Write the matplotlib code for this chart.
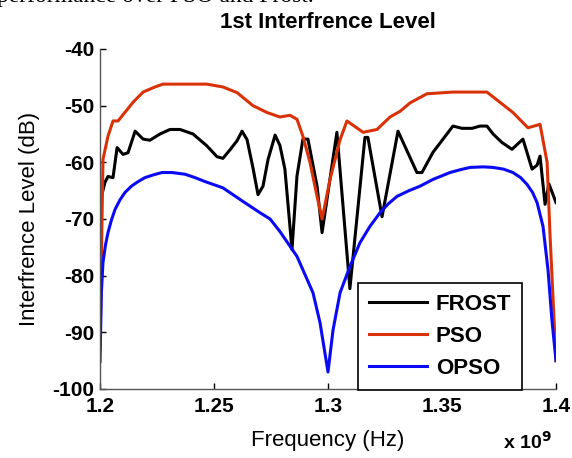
import matplotlib
matplotlib.use("Agg")
import matplotlib.pyplot as plt

plt.rcParams['font.family'] = ['Liberation Sans', 'DejaVu Sans']

# frequencies (axis shows x 10^9)
f_frost = [1.2000, 1.2022, 1.2035, 1.2057, 1.2075, 1.2101, 1.2123, 1.2154, 1.2189, 1.2219,
           1.2263, 1.2307, 1.2351, 1.2408, 1.2469, 1.2513, 1.2539, 1.2570, 1.2601, 1.2623,
           1.2645, 1.2671, 1.2693, 1.2715, 1.2737, 1.2768, 1.2789, 1.2811, 1.2842, 1.2864,
           1.2890, 1.2912, 1.2952, 1.2974, 1.3039, 1.3096, 1.3162, 1.3175, 1.3237, 1.3307,
           1.3390, 1.3412, 1.3461, 1.3548, 1.3588, 1.3632, 1.3667, 1.3697, 1.3724, 1.3763,
           1.3807, 1.3855, 1.3895, 1.3917, 1.3930, 1.3952, 1.3969, 1.4000]
frost = [-67.0, -63.5, -62.5, -62.7, -57.4, -58.6, -58.3, -54.5, -55.9, -56.1,
         -55.0, -54.2, -54.2, -55.0, -57.1, -59.0, -59.3, -57.8, -56.2, -54.5,
         -56.0, -61.0, -65.7, -64.2, -59.5, -55.2, -57.0, -61.2, -75.4, -62.4,
         -55.9, -55.9, -64.2, -72.4, -54.7, -82.3, -55.6, -55.6, -69.6, -54.5,
         -61.8, -61.8, -58.2, -53.6, -54.0, -54.0, -53.6, -53.6, -55.0, -56.5,
         -57.7, -55.9, -61.2, -60.5, -58.9, -67.4, -63.8, -67.1]

f_pso = [1.2000, 1.2013, 1.2035, 1.2057, 1.2079, 1.2145, 1.2189, 1.2241, 1.2276, 1.2469,
         1.2539, 1.2601, 1.2671, 1.2732, 1.2789, 1.2833, 1.2864, 1.2890, 1.2921, 1.2952,
         1.2974, 1.3009, 1.3053, 1.3083, 1.3154, 1.3215, 1.3272, 1.3316, 1.3360, 1.3434,
         1.3548, 1.3697, 1.3754, 1.3811, 1.3877, 1.3930, 1.3961, 1.3974, 1.4000]
pso = [-93.0, -59.5, -55.4, -52.7, -52.7, -49.4, -47.6, -46.7, -46.2, -46.2,
       -46.7, -47.7, -50.0, -51.2, -52.0, -51.7, -52.4, -55.4, -60.0, -66.0,
       -70.0, -63.0, -56.0, -52.7, -54.7, -54.2, -52.0, -51.0, -49.5, -47.9,
       -47.6, -47.6, -49.4, -51.2, -53.9, -53.3, -60.0, -73.0, -95.0]

f_opso = [1.2000, 1.2006, 1.2013, 1.2024, 1.2035, 1.2050, 1.2066, 1.2088, 1.2110, 1.2138,
          1.2167, 1.2197, 1.2235, 1.2272, 1.2316, 1.2373, 1.2417, 1.2461, 1.2539, 1.2627,
          1.2702, 1.2746, 1.2789, 1.2864, 1.2934, 1.2965, 1.3000, 1.3022, 1.3053, 1.3096,
          1.3140, 1.3184, 1.3228, 1.3265, 1.3303, 1.3355, 1.3404, 1.3461, 1.3535, 1.3580,
          1.3623, 1.3680, 1.3724, 1.3770, 1.3811, 1.3845, 1.3873, 1.3897, 1.3917, 1.3943,
          1.3965, 1.3982, 1.4000]
opso = [-95.2, -83.0, -77.7, -74.6, -72.4, -70.2, -68.3, -66.6, -65.3, -64.2,
        -63.4, -62.7, -62.2, -61.8, -61.8, -62.1, -62.7, -63.4, -64.5, -66.9,
        -68.9, -70.0, -72.2, -76.6, -83.0, -88.3, -97.0, -89.6, -83.0, -78.4,
        -74.2, -71.3, -68.9, -67.3, -66.0, -65.0, -64.2, -63.0, -61.8, -61.3,
        -60.9, -60.8, -60.9, -61.2, -61.8, -62.7, -63.9, -65.3, -67.1, -71.3,
        -79.0, -87.8, -95.0]

xticks = [1.2, 1.25, 1.3, 1.35, 1.4]
xticklabels = ['1.2', '1.25', '1.3', '1.35', '1.4']
yticks = [-100, -90, -80, -70, -60, -50, -40]

fig = plt.figure(figsize=(5.72, 4.58), dpi=100)
ax = fig.add_axes([100/572, 1 - 389/458, 456/572, 340/458])

ax.plot(f_frost, frost, color='black', lw=2.2, label='FROST')
ax.plot(f_pso, pso, color='#D93208', lw=2.2, label='PSO')
ax.plot(f_opso, opso, color='#0A0AF5', lw=2.2, label='OPSO')

ax.set_xlim(1.2, 1.4)
ax.set_ylim(-100, -40)
ax.set_xticks(xticks)
ax.set_xticklabels(xticklabels, fontsize=15, fontweight='bold')
ax.set_yticks(yticks)
ax.set_yticklabels([str(v) for v in yticks], fontsize=15, fontweight='bold')
ax.tick_params(direction='in', length=4, width=1, colors='black')
ax.tick_params(axis='x', pad=6)
ax.tick_params(axis='y', pad=4)
for s in ['top', 'right']:
    ax.spines[s].set_visible(False)
for s in ['left', 'bottom']:
    ax.spines[s].set_color('#555555')
    ax.spines[s].set_linewidth(1.0)

ax.set_title('1st Interfrence Level', fontsize=16, fontweight='bold', pad=15)
ax.set_xlabel('Frequency (Hz)', fontsize=16, labelpad=10)
ax.set_ylabel('Interfrence Level (dB)', fontsize=16, labelpad=9)

fig.text(503/572, 1 - 449/458, 'x 10$^{\\mathbf{9}}$', fontsize=14, fontweight='bold')

leg = fig.legend(loc='lower left', bbox_to_anchor=(358/572, 68/458),
                 bbox_transform=fig.transFigure,
                 prop={'weight': 'bold', 'size': 16}, frameon=True, fancybox=False,
                 handlelength=2.6, handletextpad=0.4, borderpad=0.5, labelspacing=0.5,
                 borderaxespad=0)
leg.get_frame().set_edgecolor('black')
leg.get_frame().set_linewidth(1.2)
leg.get_frame().set_alpha(1)

# clipped caption line from the page above the figure
fig.text(-0.005, 1 - 2/458, 'performance over PSO and Frost.', fontsize=17,
         family=['Liberation Serif'], va='baseline')

fig.savefig('out.png', dpi=100)
